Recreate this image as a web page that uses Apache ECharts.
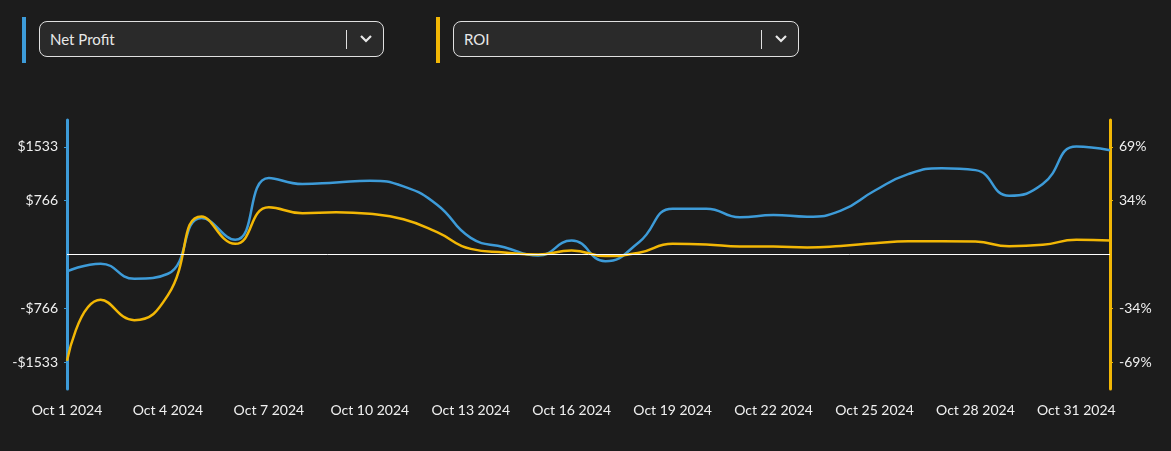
<!DOCTYPE html>
<html>
<head>
<meta charset="utf-8">
<script src="https://cdn.jsdelivr.net/npm/echarts@6/dist/echarts.min.js"></script>
<style>
  html, body { margin:0; padding:0; background:#1c1c1c; width:1171px; height:451px; overflow:hidden; font-family: Lato, "Open Sans", sans-serif; }
  #chart { position:absolute; left:0; top:0; width:1171px; height:451px; }
  .bar { position:absolute; top:17px; width:4px; height:46px; }
  .dd { position:absolute; top:21px; height:36px; box-sizing:border-box; border:1px solid #e0e0e0; border-radius:8px; background:#2a2a2a; color:#e8e8e8; font-size:15px; line-height:34px; padding-left:10px; }
  .dd .div { position:absolute; top:8px; width:1px; height:19px; background:#e0e0e0; }
  .dd svg { position:absolute; top:12px; }
</style>
</head>
<body>
<div id="chart"></div>
<div class="bar" style="left:22px;background:#3d9bd8;"></div>
<div class="dd" style="left:39px;width:345px;">Net Profit<span class="div" style="left:306px;"></span><svg style="left:319px" width="14" height="10" viewBox="0 0 14 10"><polyline points="2,2 7,7 12,2" fill="none" stroke="#e8e8e8" stroke-width="2.2"/></svg></div>
<div class="bar" style="left:436px;background:#f2b705;"></div>
<div class="dd" style="left:453px;width:346px;">ROI<span class="div" style="left:307px;"></span><svg style="left:320px" width="14" height="10" viewBox="0 0 14 10"><polyline points="2,2 7,7 12,2" fill="none" stroke="#e8e8e8" stroke-width="2.2"/></svg></div>
<script>
const categories = ["Oct 1 2024","Oct 2 2024","Oct 3 2024","Oct 4 2024","Oct 5 2024","Oct 6 2024","Oct 7 2024","Oct 8 2024","Oct 9 2024","Oct 10 2024","Oct 11 2024","Oct 12 2024","Oct 13 2024","Oct 14 2024","Oct 15 2024","Oct 16 2024","Oct 17 2024","Oct 18 2024","Oct 19 2024","Oct 20 2024","Oct 21 2024","Oct 22 2024","Oct 23 2024","Oct 24 2024","Oct 25 2024","Oct 26 2024","Oct 27 2024","Oct 28 2024","Oct 29 2024","Oct 30 2024","Oct 31 2024","Nov 1 2024"];
const netProfit = [-241, -130, -345, -274, 521, 209, 1090, 1003, 1027, 1050, 970, 710, 237, 104, -14, 199, -95, 175, 653, 653, 530, 563, 539, 624, 908, 1145, 1230, 1202, 837, 1003, 1537, 1486];
const roi = [-68, -29, -42, -26, 24.3, 6.8, 30.2, 26.4, 27, 26, 22.5, 14.3, 3.6, 1.3, 0, 2.6, -1, 1.1, 6.8, 6.4, 5.1, 5.1, 4.5, 5.5, 7.2, 8.5, 8.5, 8.3, 5.3, 6.2, 9.4, 8.9];
const profitMax = 1916;
const profitTicks = [-1532.8, -766.4, 766.4, 1532.8];
const roiMax = 86;
const roiTicks = [-68.8, -34.4, 34.4, 68.8];

const BLUE = '#3d9bd8', YELLOW = '#f2b705';
const chart = echarts.init(document.getElementById('chart'));
chart.setOption({
  backgroundColor: '#1c1c1c',
  animation: false,
  textStyle: { fontFamily: 'Lato' },
  grid: { left: 67, right: 61, top: 120, bottom: 62 },
  xAxis: {
    type: 'category', data: categories, boundaryGap: false,
    axisLine: { show: false }, axisTick: { show: false }, splitLine: { show: false },
    axisLabel: { interval: 2, color: '#f0f0f0', fontSize: 14, margin: 14, fontFamily: 'Lato' }
  },
  yAxis: [
    {
      type: 'value', min: -profitMax, max: profitMax, position: 'left',
      axisLine: { show: true, lineStyle: { color: BLUE, width: 3 } },
      axisTick: { show: true, length: 3, lineStyle: { color: BLUE, width: 1 }, customValues: profitTicks },
      axisLabel: { color: '#f0f0f0', fontSize: 14, margin: 9, customValues: profitTicks,
        formatter: v => (v < 0 ? '-$' : '$') + Math.round(Math.abs(v)) },
      splitLine: { show: false }
    },
    {
      type: 'value', min: -roiMax, max: roiMax, position: 'right',
      axisLine: { show: true, lineStyle: { color: YELLOW, width: 3 } },
      axisTick: { show: true, length: 3, lineStyle: { color: YELLOW, width: 1 }, customValues: roiTicks },
      axisLabel: { color: '#f0f0f0', fontSize: 14, margin: 9, customValues: roiTicks,
        formatter: v => (v < 0 ? '-' : '') + Math.round(Math.abs(v)) + '%' },
      splitLine: { show: false }
    }
  ],
  series: [
    {
      name: 'Net Profit', type: 'line', yAxisIndex: 0, data: netProfit, smooth: true,
      showSymbol: false, lineStyle: { color: BLUE, width: 2.5 }, itemStyle: { color: BLUE }, z: 3,
      markLine: { silent: true, symbol: 'none', label: { show: false },
        lineStyle: { color: '#ffffff', width: 1, type: 'solid' }, data: [{ yAxis: 0 }] }
    },
    {
      name: 'ROI', type: 'line', yAxisIndex: 1, data: roi, smooth: true,
      showSymbol: false, lineStyle: { color: YELLOW, width: 2.5 }, itemStyle: { color: YELLOW }, z: 4
    }
  ]
});
</script>
</body>
</html>
